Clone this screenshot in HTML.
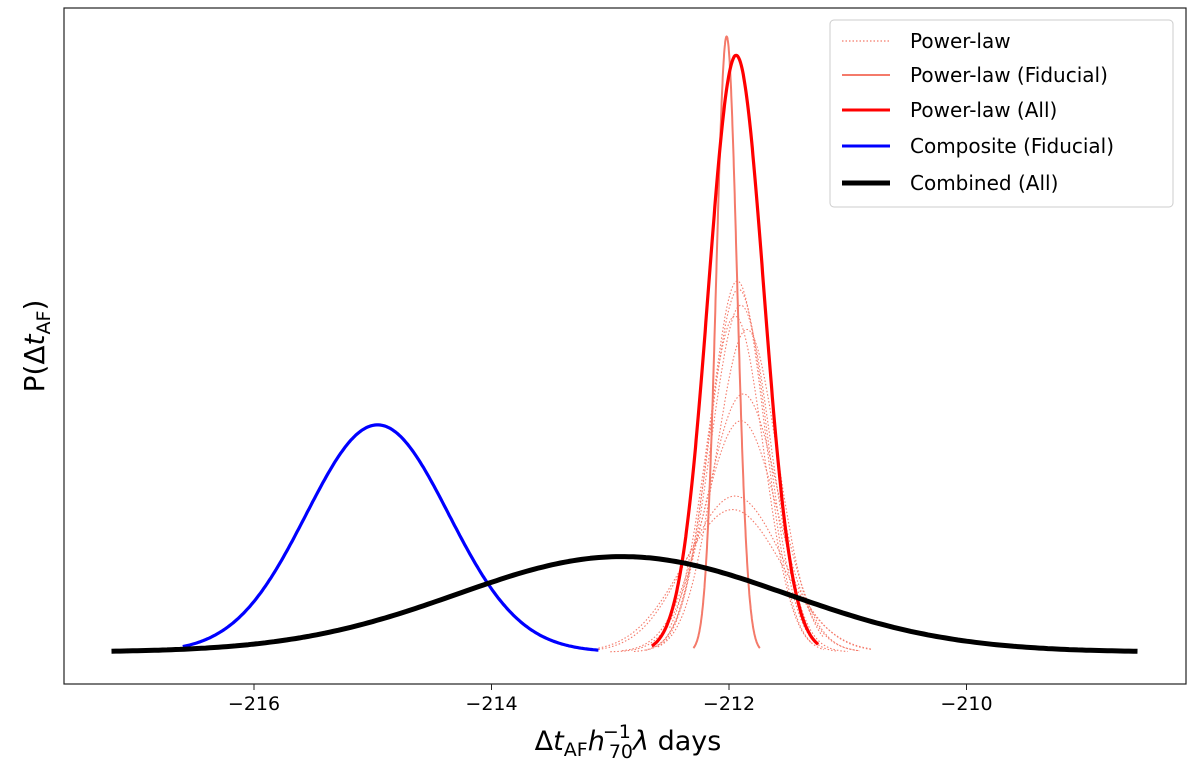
<!DOCTYPE html>
<html><head><meta charset="utf-8"><style>
body{margin:0;background:#fff}
svg{display:block;font-family:"DejaVu Sans","Liberation Sans",sans-serif}
</style></head><body>
<svg id="chart" width="1200" height="767" viewBox="0 0 1200 767" xmlns="http://www.w3.org/2000/svg">
<rect x="0" y="0" width="1200" height="767" fill="#fff"/>
<g id="curves"></g>
<rect x="64" y="8" width="1122" height="676" fill="none" stroke="#222" stroke-width="1.2"/>
<g id="xticks"></g>
<text x="628" y="750" font-size="27" text-anchor="middle">Δ<tspan font-style="italic">t</tspan><tspan font-size="19" dy="6">AF</tspan><tspan font-style="italic" dy="-6">h</tspan><tspan font-size="19" dx="-2" dy="-12">−1</tspan><tspan font-size="19" dx="-22" dy="20">70</tspan><tspan font-style="italic" dy="-8">λ</tspan> days</text>
<text transform="translate(44,346) rotate(-90)" font-size="28" text-anchor="middle">P(Δ<tspan font-style="italic">t</tspan><tspan font-size="19" dy="6">AF</tspan><tspan dy="-6">)</tspan></text>
<g>
<rect x="830" y="20" width="343" height="187" rx="4" fill="#fff" fill-opacity="0.85" stroke="#ccc" stroke-width="1"/>
<line x1="842" y1="41" x2="890" y2="41" stroke="#f47a6a" stroke-width="1.2" stroke-dasharray="1.5,2"/>
<text x="910" y="48" font-size="20">Power-law</text>
<line x1="842" y1="75" x2="890" y2="75" stroke="#f47a6a" stroke-width="2"/>
<text x="910" y="82" font-size="20">Power-law (Fiducial)</text>
<line x1="842" y1="110" x2="890" y2="110" stroke="#f00" stroke-width="3"/>
<text x="910" y="117" font-size="20">Power-law (All)</text>
<line x1="842" y1="146" x2="890" y2="146" stroke="#00f" stroke-width="3"/>
<text x="910" y="153" font-size="20">Composite (Fiducial)</text>
<line x1="842" y1="183" x2="890" y2="183" stroke="#000" stroke-width="5"/>
<text x="910" y="190" font-size="20">Combined (All)</text>
</g>
</svg>
<script>
const xTicks = [-216, -214, -212, -210];
const xTickLabels = ["−216", "−214", "−212", "−210"];
// dotted power-law curves: mean, sigma, peak height, range
const plMu = [-211.93, -211.92, -211.9, -211.95, -211.88, -211.9, -211.95, -211.97, -211.85];
const plSigma = [0.23, 0.24, 0.25, 0.24, 0.3, 0.31, 0.4, 0.42, 0.26];
const plPeak = [1.38, 1.35, 1.29, 1.25, 0.96, 0.86, 0.58, 0.53, 1.2];
const plMin = [-212.6, -212.7, -212.8, -212.5, -213.0, -212.9, -213.1, -213.1, -212.6];
const plMax = [-211.2, -211.1, -211.0, -211.3, -210.9, -210.9, -210.8, -210.8, -211.2];
const fidMu = [-212.02], fidSigma = [0.088], fidPeak = [2.29], fidRange = [-212.3, -211.74];
const allMu = [-211.94], allSigma = [0.234], allPeak = [2.22], allRange = [-212.65, -211.25];
const compMu = [-214.96], compSigma = [0.6], compPeak = [0.845], compRange = [-216.6, -213.1];
const combMu = [-212.9], combSigma = [1.39], combPeak = [0.355], combRange = [-217.2, -208.56];

function xs(v){ return 729 + (v + 212) * 118.75; }
function ys(v){ return 652 - v * 268.8; }
const NS = "http://www.w3.org/2000/svg";
const g = document.getElementById('curves');
function gauss(mu, s, a, lo, hi){
  let d = "";
  const n = 240;
  for (let i = 0; i <= n; i++){
    const x = lo + (hi - lo) * i / n;
    const y = a * Math.exp(-(x - mu) * (x - mu) / (2 * s * s));
    d += (i ? "L" : "M") + xs(x).toFixed(1) + "," + ys(y).toFixed(1);
  }
  return d;
}
function addPath(d, color, w, dash, name){
  const p = document.createElementNS(NS, 'path');
  p.setAttribute('d', d);
  p.setAttribute('fill', 'none');
  p.setAttribute('stroke', color);
  p.setAttribute('stroke-width', w);
  if (dash) p.setAttribute('stroke-dasharray', dash);
  p.setAttribute('stroke-linejoin', 'round');
  
  
  g.appendChild(p);
}
for (let i = 0; i < plMu.length; i++){
  addPath(gauss(plMu[i], plSigma[i], plPeak[i], plMin[i], plMax[i]), '#f47a6a', 1.1, '1.5,2', 'power-law-curve');
}
addPath(gauss(fidMu[0], fidSigma[0], fidPeak[0], fidRange[0], fidRange[1]), '#f47a6a', 2, null, 'power-law-fiducial-curve');
addPath(gauss(allMu[0], allSigma[0], allPeak[0], allRange[0], allRange[1]), '#ff0000', 3.2, null, 'power-law-all-curve');
addPath(gauss(compMu[0], compSigma[0], compPeak[0], compRange[0], compRange[1]), '#0000ff', 3.2, null, 'composite-fiducial-curve');
addPath(gauss(combMu[0], combSigma[0], combPeak[0], combRange[0], combRange[1]), '#000000', 5, null, 'combined-all-curve');

const xt = document.getElementById('xticks');
xTicks.forEach((t, i) => {
  const l = document.createElementNS(NS, 'line');
  l.setAttribute('x1', xs(t)); l.setAttribute('x2', xs(t));
  l.setAttribute('y1', 684); l.setAttribute('y2', 690);
  l.setAttribute('stroke', '#222');
  
  
  xt.appendChild(l);
  const tx = document.createElementNS(NS, 'text');
  tx.setAttribute('x', xs(t)); tx.setAttribute('y', 710);
  tx.setAttribute('font-size', '19');
  tx.setAttribute('text-anchor', 'middle');
  tx.textContent = xTickLabels[i];
  
  
  xt.appendChild(tx);
});
</script>
</body></html>
